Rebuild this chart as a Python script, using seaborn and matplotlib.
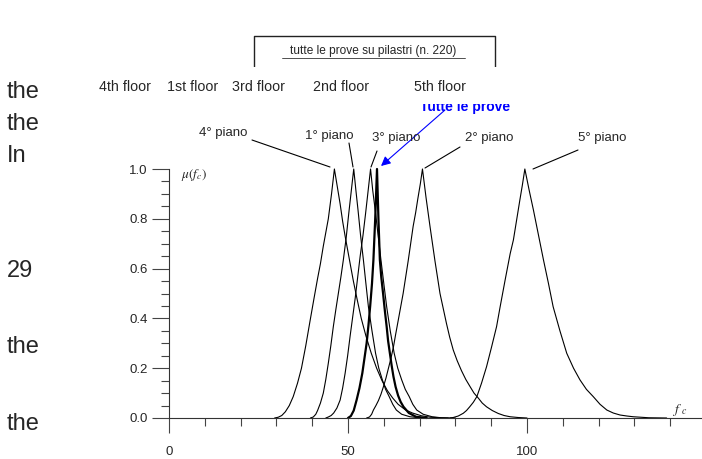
import numpy as np
import pandas as pd
import matplotlib
matplotlib.use("Agg")
import matplotlib.pyplot as plt
import seaborn as sns
from matplotlib.lines import Line2D
from matplotlib.patches import Rectangle

# membership curves (x = f_c, y = mu)
x_4 = [29.5, 30.5, 31.5, 32.5, 33.6, 34.7, 35.9, 37.0, 38.2, 39.4, 40.5, 41.5, 42.3, 43.1, 43.8, 44.5, 45.4, 46.2, 47.0, 47.8,
       48.5, 49.2, 50.6, 51.5, 52.5, 53.7, 55.0, 56.5, 58.0, 59.5, 61.0, 62.5, 64.0, 66.0, 68.0, 70.5, 73.0, 76.0, 80.0]
y_4 = [0.0, 0.003, 0.01, 0.025, 0.05, 0.086, 0.14, 0.2, 0.29, 0.39, 0.48, 0.56, 0.62, 0.69, 0.745, 0.8, 0.9, 1.0, 0.93, 0.86,
       0.79, 0.73, 0.62, 0.55, 0.48, 0.40, 0.33, 0.26, 0.2, 0.15, 0.11, 0.08, 0.055, 0.033, 0.02, 0.009, 0.003, 0.001, 0.0]

x_1 = [39.5, 40.3, 41.0, 41.5, 42.3, 43.1, 43.8, 44.5, 45.2, 45.9, 46.6, 47.3, 48.0, 48.7, 49.5, 50.2, 50.9, 51.6,
       52.2, 52.8, 53.5, 54.3, 55.0, 55.7, 56.7, 57.7, 58.6, 59.6, 60.5, 61.5, 62.5, 63.5, 65.0, 67.3, 70.0, 72.0]
y_1 = [0.0, 0.004, 0.015, 0.03, 0.06, 0.1, 0.155, 0.22, 0.29, 0.367, 0.435, 0.5, 0.565, 0.635, 0.725, 0.82, 0.91, 1.0,
       0.915, 0.835, 0.735, 0.635, 0.54, 0.447, 0.35, 0.26, 0.2, 0.153, 0.115, 0.086, 0.055, 0.032, 0.015, 0.005, 0.001, 0.0]

x_3 = [43.8, 44.5, 45.3, 46.0, 46.9, 47.8, 48.5, 49.2, 49.9, 50.6, 51.3, 52.0, 52.7, 53.4, 54.2, 54.9, 55.6, 56.3,
       56.9, 57.6, 58.4, 59.2, 60.0, 60.8, 61.8, 62.9, 63.9, 65.0, 66.0, 67.1, 68.1, 69.2, 71.0, 73.5, 76.0, 78.0]
y_3 = [0.0, 0.004, 0.01, 0.02, 0.04, 0.072, 0.12, 0.18, 0.25, 0.33, 0.405, 0.48, 0.565, 0.65, 0.735, 0.82, 0.91, 1.0,
       0.915, 0.835, 0.735, 0.635, 0.54, 0.447, 0.35, 0.26, 0.2, 0.153, 0.115, 0.086, 0.055, 0.032, 0.015, 0.005, 0.001, 0.0]

x_all = [50.0, 50.8, 51.6, 52.4, 53.2, 54.0, 54.6, 55.2, 55.7, 56.2, 56.7, 57.1, 57.6, 58.1,
         58.5, 58.9, 59.3, 59.8, 60.3, 60.8, 61.2, 61.7, 62.2, 62.7, 63.3, 64.0, 64.7, 65.5, 67.0, 69.0, 72.0]
y_all = [0.0, 0.008, 0.03, 0.072, 0.12, 0.18, 0.24, 0.3, 0.37, 0.45, 0.54, 0.635, 0.8, 1.0,
         0.8, 0.635, 0.565, 0.5, 0.43, 0.367, 0.31, 0.26, 0.21, 0.166, 0.125, 0.09, 0.065, 0.045, 0.02, 0.005, 0.0]

x_2 = [55.2, 56.0, 56.6, 57.1, 57.8, 58.5, 59.2, 59.9, 60.6, 61.3, 62.0, 62.7, 63.3, 64.0, 64.7, 65.4, 66.1, 66.8,
       67.5, 68.2, 68.9, 69.5, 70.2, 70.8, 71.8, 72.9, 73.6, 74.3, 75.0, 75.7, 76.6, 77.5, 78.4, 79.4, 80.5, 81.7,
       82.9, 84.1, 85.2, 86.4, 87.5, 88.7, 90.3, 92.0, 93.6, 95.3, 97.5, 100.0]
y_2 = [0.0, 0.004, 0.015, 0.032, 0.05, 0.07, 0.095, 0.126, 0.16, 0.2, 0.24, 0.286, 0.335, 0.39, 0.445, 0.5, 0.565, 0.63,
       0.7, 0.77, 0.825, 0.88, 0.94, 1.0, 0.885, 0.77, 0.7, 0.63, 0.565, 0.5, 0.44, 0.38, 0.325, 0.273, 0.23, 0.19,
       0.155, 0.126, 0.1, 0.08, 0.06, 0.045, 0.03, 0.018, 0.01, 0.005, 0.002, 0.0]

x_5 = [78.5, 79.4, 80.8, 82.2, 83.1, 84.0, 85.0, 86.0, 87.3, 88.7, 90.1, 91.5, 92.5, 93.9, 95.3, 96.2, 97.1, 98.0, 98.7, 99.4,
       100.6, 101.8, 103.2, 104.6, 106.0, 107.3, 109.2, 111.1, 113.0, 114.8, 116.6, 118.5, 120.4, 122.3, 124.1, 126.0,
       127.9, 129.7, 134.0, 139.0]
y_5 = [0.0, 0.002, 0.008, 0.019, 0.03, 0.045, 0.063, 0.086, 0.14, 0.206, 0.285, 0.367, 0.447, 0.555, 0.66, 0.715, 0.795,
       0.875, 0.935, 1.0, 0.915, 0.835, 0.735, 0.635, 0.54, 0.447, 0.35, 0.26, 0.2, 0.153, 0.115, 0.086, 0.055, 0.032,
       0.02, 0.012, 0.008, 0.005, 0.001, 0.0]

curve_names = ["4° piano", "1° piano", "3° piano", "tutte le prove", "2° piano", "5° piano"]
curve_x = [x_4, x_1, x_3, x_all, x_2, x_5]
curve_y = [y_4, y_1, y_3, y_all, y_2, y_5]

floor_labels = ["4th floor", "1st floor", "3rd floor", "2nd floor", "5th floor"]
side_words = ["the", "the", "In", "29", "the", "the"]

x_major = [0, 50, 100]
y_major = [0.0, 0.2, 0.4, 0.6, 0.8, 1.0]

sns.set_style("ticks")
plt.rcParams['font.family'] = ['Liberation Sans', 'DejaVu Sans']
plt.rcParams['mathtext.fontset'] = 'stix'

W, H = 702, 459
fig = plt.figure(figsize=(W / 100, H / 100), dpi=100)


def fx(x):
    return x / W


def fy(y):
    return 1 - y / H


ax = fig.add_axes([fx(169), fy(418), (W - 169) / W, 249 / H])

for name, xs, ys in zip(curve_names, curve_x, curve_y):
    df = pd.DataFrame({"f": xs, "mu": ys})
    lw = 1.6 if name == "tutte le prove" else 0.8
    sns.lineplot(data=df, x="f", y="mu", color="black", lw=lw, ax=ax,
                 sort=False, estimator=None, clip_on=False)

ax.set_xlim(0, (W - 169) / 3.58)
ax.set_ylim(0, 1)
ax.set_xlabel("")
ax.set_ylabel("")
sns.despine(ax=ax)
for s in ["left", "bottom"]:
    ax.spines[s].set_linewidth(0.8)
    ax.spines[s].set_color("#333333")

ax.set_xticks(x_major)
ax.set_xticklabels([str(v) for v in x_major])
ax.set_xticks([v for v in range(10, 150, 10) if v % 50], minor=True)
ax.set_yticks(y_major)
ax.set_yticklabels([f"{v:.1f}" for v in y_major])
ax.set_yticks([v / 100 for v in range(5, 100, 5) if v % 20], minor=True)
ax.tick_params(axis="x", which="major", direction="out", length=11, width=0.8,
               pad=9, labelsize=9.5, color="#444444")
ax.tick_params(axis="x", which="minor", direction="out", length=6, width=0.8, color="#444444")
ax.tick_params(axis="y", which="major", direction="out", length=12.5, width=0.8,
               pad=3, labelsize=9.5, color="#444444")
ax.tick_params(axis="y", which="minor", direction="out", length=6, width=0.8, color="#444444")

# axis symbols
fig.text(fx(181), fy(175), r"$\mu(f_c)$", fontsize=9.5, va="center", ha="left")
fig.text(fx(672), fy(410), r"$f\ _c$", fontsize=10, va="center", ha="left")

# curve labels with leader lines
labels = [("4° piano", 223, 133, (252, 140), (330, 167)),
          ("1° piano", 329, 136, (349, 143), (353, 167)),
          ("3° piano", 396, 138, (377, 151), (371, 167)),
          ("2° piano", 489, 138, (460, 147), (425, 168)),
          ("5° piano", 602, 138, (578, 150), (533, 169))]
for txt, tx, ty, p0, p1 in labels:
    fig.text(fx(tx), fy(ty), txt, fontsize=9.5, ha="center", va="center")
    fig.add_artist(Line2D([fx(p0[0]), fx(p1[0])], [fy(p0[1]), fy(p1[1])],
                          color="black", lw=0.8, transform=fig.transFigure))

# blue label and arrow (top part hidden by the overlay band)
fig.text(fx(420), fy(111), "Tutte le prove", color="blue", fontsize=10,
         fontweight="bold", ha="left", va="baseline", zorder=1)
ax.annotate("", xy=(fx(381), fy(166)), xycoords="figure fraction",
            xytext=(fx(445), fy(110)), textcoords="figure fraction",
            arrowprops=dict(arrowstyle="-|>", color="blue", lw=0.8,
                            mutation_scale=14, shrinkA=0, shrinkB=0))

# title box
fig.add_artist(Line2D([fx(253.5), fx(253.5), fx(495), fx(495)],
                      [fy(75), fy(36), fy(36), fy(75)],
                      color="#222222", lw=1.0, transform=fig.transFigure, zorder=1))
fig.text(fx(373), fy(51), "tutte le prove su pilastri (n. 220)", fontsize=8.6,
         ha="center", va="center")
fig.add_artist(Line2D([fx(282), fx(465)], [fy(57.5), fy(57.5)], color="#333333",
                      lw=0.6, transform=fig.transFigure))

# white overlay band with the floor names
fig.add_artist(Rectangle((0, fy(103.5)), 1, (103.5 - 67.5) / H, facecolor="white",
                         edgecolor="none", transform=fig.transFigure, zorder=5))
floor_x = [99, 167, 232, 313, 414]
for lab, x0 in zip(floor_labels, floor_x):
    fig.text(fx(x0), fy(87), lab, fontsize=10.3, ha="left", va="center", zorder=6)

# page text fragments on the left
side_y = [92, 124, 156, 271, 347, 424]
for w, y0 in zip(side_words, side_y):
    fig.text(fx(7), fy(y0), w, fontsize=17, ha="left", va="center", zorder=6)

fig.savefig("out.png", dpi=100)
